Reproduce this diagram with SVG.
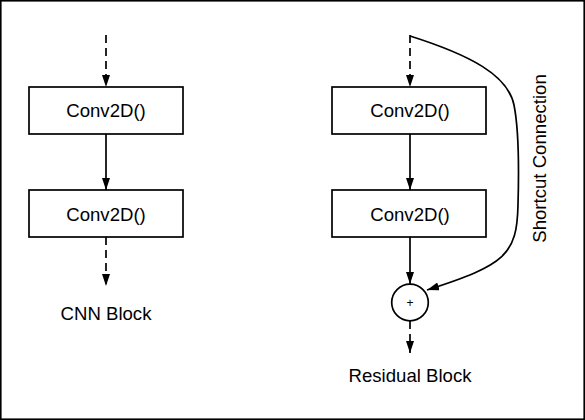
<svg xmlns="http://www.w3.org/2000/svg" width="585" height="420" viewBox="0 0 585 420">
<style>
.box{fill:#fff;stroke:#000;stroke-width:1.7}
.ln{fill:none;stroke:#000;stroke-width:1.7}
.dash{stroke-dasharray:8 5}
.t{font-family:"Liberation Sans",Arial,sans-serif;font-size:18.6px;fill:#000}
</style>
<defs>
<marker id="ah" viewBox="0 0 12 8" refX="12" refY="4" markerWidth="12" markerHeight="8" markerUnits="userSpaceOnUse" orient="auto">
<path d="M0,0 L12,4 L0,8 Z" fill="#000"/>
</marker>
</defs>
<rect x="0.8" y="0.8" width="583.4" height="418.4" fill="#fff" stroke="#000" stroke-width="1.6"/>
<g id="connectors">
<line class="ln dash" x1="106" y1="35" x2="106" y2="87" marker-end="url(#ah)"/>
<line class="ln" x1="106" y1="134" x2="106" y2="190" marker-end="url(#ah)"/>
<line class="ln dash" x1="106" y1="237" x2="106" y2="286" marker-end="url(#ah)"/>
<line class="ln dash" x1="410" y1="35" x2="410" y2="87" marker-end="url(#ah)"/>
<line class="ln" x1="410" y1="134" x2="410" y2="190" marker-end="url(#ah)"/>
<line class="ln" x1="410" y1="237" x2="410" y2="284" marker-end="url(#ah)"/>
<line class="ln dash" x1="410" y1="321" x2="410" y2="353" marker-end="url(#ah)"/>
<path class="ln" d="M410,36 C470,55 508,75 514,105 C519,130 519,170 518,205 C517,255 505,265 427,290" marker-end="url(#ah)"/>
</g>
<g id="cnn-conv1">
<rect class="box" x="29" y="87" width="154" height="47"/>
<text class="t" x="106" y="117" text-anchor="middle">Conv2D()</text>
</g>
<g id="cnn-conv2">
<rect class="box" x="29" y="190" width="154" height="47"/>
<text class="t" x="106" y="221" text-anchor="middle">Conv2D()</text>
</g>
<g id="cnn-label">
<text class="t" x="106" y="320" text-anchor="middle">CNN Block</text>
</g>
<g id="res-conv1">
<rect class="box" x="332" y="87" width="154" height="47"/>
<text class="t" x="410" y="117" text-anchor="middle">Conv2D()</text>
</g>
<g id="res-conv2">
<rect class="box" x="332" y="190" width="154" height="47"/>
<text class="t" x="410" y="221" text-anchor="middle">Conv2D()</text>
</g>
<g id="res-add">
<circle cx="410" cy="302.5" r="18.3" fill="#fff" stroke="#000" stroke-width="1.7"/>
<text x="410" y="306.5" text-anchor="middle" style="font-family:'Liberation Sans',Arial,sans-serif;font-size:12px;fill:#000">+</text>
</g>
<g id="res-label">
<text class="t" x="410" y="382" text-anchor="middle">Residual Block</text>
</g>
<g id="shortcut-label">
<text class="t" transform="translate(546,158.5) rotate(-90)" x="0" y="0" text-anchor="middle">Shortcut Connection</text>
</g>
</svg>
